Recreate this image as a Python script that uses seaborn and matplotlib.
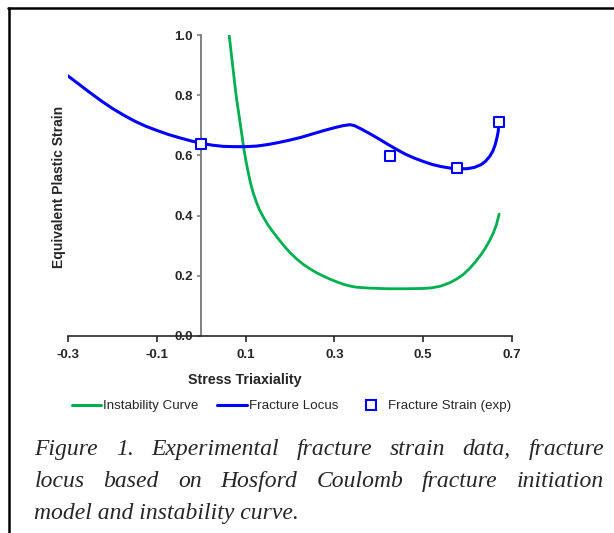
import matplotlib
matplotlib.use("Agg")
import matplotlib.pyplot as plt
import seaborn as sns
from matplotlib.lines import Line2D

# ---- data ----
instab_x = [0.063, 0.068, 0.072, 0.076, 0.080, 0.084, 0.088, 0.092, 0.096, 0.101,
            0.106, 0.111, 0.117, 0.124, 0.131, 0.140, 0.150, 0.160, 0.170, 0.185,
            0.200, 0.215, 0.230, 0.245, 0.260, 0.275, 0.290, 0.305, 0.320, 0.335,
            0.350, 0.380, 0.420, 0.460, 0.500, 0.520, 0.540, 0.560, 0.575, 0.590,
            0.605, 0.618, 0.630, 0.640, 0.650, 0.658, 0.665, 0.671]
instab_y = [1.000, 0.935, 0.884, 0.832, 0.784, 0.745, 0.705, 0.664, 0.622, 0.580,
            0.543, 0.508, 0.476, 0.446, 0.420, 0.395, 0.370, 0.349, 0.330, 0.302,
            0.277, 0.256, 0.238, 0.223, 0.210, 0.199, 0.189, 0.180, 0.172, 0.166,
            0.162, 0.159, 0.157, 0.157, 0.158, 0.160, 0.166, 0.177, 0.189, 0.204,
            0.225, 0.247, 0.270, 0.292, 0.318, 0.343, 0.370, 0.405]

locus_x = [-0.300, -0.275, -0.250, -0.225, -0.200, -0.175, -0.150, -0.125, -0.100,
           -0.075, -0.050, -0.025, 0.000, 0.025, 0.050, 0.075, 0.100, 0.125, 0.150,
           0.175, 0.200, 0.225, 0.250, 0.275, 0.300, 0.320, 0.335, 0.345, 0.360,
           0.380, 0.400, 0.420, 0.440, 0.460, 0.480, 0.500, 0.520, 0.540, 0.560,
           0.580, 0.600, 0.615, 0.630, 0.640, 0.650, 0.657, 0.662, 0.666, 0.669,
           0.670]
locus_y = [0.864, 0.836, 0.808, 0.781, 0.756, 0.734, 0.714, 0.697, 0.683,
           0.670, 0.659, 0.649, 0.640, 0.634, 0.630, 0.629, 0.629, 0.631, 0.636,
           0.643, 0.651, 0.660, 0.671, 0.682, 0.692, 0.699, 0.702, 0.699, 0.688,
           0.672, 0.655, 0.637, 0.620, 0.604, 0.591, 0.580, 0.570, 0.563, 0.558,
           0.555, 0.556, 0.560, 0.569, 0.580, 0.597, 0.615, 0.635, 0.658, 0.680,
           0.701]

exp_x = [0.000, 0.425, 0.577, 0.670]
exp_y = [0.638, 0.599, 0.557, 0.712]

x_ticks = [-0.3, -0.1, 0.1, 0.3, 0.5, 0.7]
y_ticks = [0.0, 0.2, 0.4, 0.6, 0.8, 1.0]

caption = [
    "Figure 1. Experimental fracture strain data, fracture",
    "locus based on Hosford Coulomb fracture initiation",
    "model and instability curve.",
]

GREEN = "#00B050"
BLUE = "#0000FF"
W, H = 614, 533

sns.set_theme(style="white")
plt.rcParams["font.family"] = ["Liberation Sans", "DejaVu Sans"]

fig = plt.figure(figsize=(W / 100, H / 100), dpi=100)
ax = fig.add_axes([68 / W, 1 - 336 / H, 444 / W, 301 / H])
ax.patch.set_alpha(0)

sns.lineplot(x=instab_x, y=instab_y, sort=False, estimator=None, color=GREEN,
             lw=2.0, ax=ax)
sns.lineplot(x=locus_x, y=locus_y, sort=False, estimator=None, color=BLUE,
             lw=2.2, ax=ax)
sns.scatterplot(x=exp_x, y=exp_y, marker="s", s=42, facecolor="white",
                edgecolor=BLUE, linewidth=1.5, ax=ax, zorder=5)

# spines first: moving a spine resets the ticks
for s in ["top", "right"]:
    ax.spines[s].set_visible(False)
ax.spines["left"].set_position(("data", 0))
ax.spines["left"].set_color("#7f7f7f")
ax.spines["left"].set_linewidth(1.4)
ax.spines["bottom"].set_color("#262626")
ax.spines["bottom"].set_linewidth(1.2)

ax.set_xlim(-0.3, 0.7)
ax.set_ylim(0.0, 1.0)
ax.set_xticks(x_ticks)
ax.set_xticklabels([f"{v:.1f}" for v in x_ticks], fontweight="bold", fontsize=9.5)
ax.set_yticks(y_ticks)
ax.set_yticklabels([f"{v:.1f}" for v in y_ticks], fontweight="bold", fontsize=9.5)
ax.tick_params(axis="x", direction="out", length=4, width=1.2, color="#262626",
               pad=5, bottom=True)
ax.tick_params(axis="y", direction="out", length=3, width=1.2, color="#7f7f7f",
               pad=3, left=True)
for lab in ax.get_yticklabels() + ax.get_xticklabels():
    lab.set_fontweight("bold")
ax.set_xlabel("")
ax.set_ylabel("")

# axis titles
fig.text(245 / W, 1 - 380 / H, "Stress Triaxiality", ha="center", va="center",
         fontsize=10.3, fontweight="bold")
fig.text(59 / W, 1 - 187 / H, "Equivalent Plastic Strain", ha="center",
         va="center", rotation=90, fontsize=10, fontweight="bold")

# legend
handles = [
    Line2D([], [], color=GREEN, lw=2.2),
    Line2D([], [], color=BLUE, lw=2.2),
    Line2D([], [], color=BLUE, lw=0, marker="s", markersize=6.5,
           markerfacecolor="white", markeredgewidth=1.5),
]
labels = ["Instability Curve", "Fracture Locus", "Fracture Strain (exp)"]
fig.legend(handles, labels, loc="center left", ncol=3, frameon=False,
           bbox_to_anchor=(72 / W, 1 - 406 / H), borderpad=0, borderaxespad=0,
           prop={"size": 9.6}, handlelength=2.2, handletextpad=0.15,
           columnspacing=1.4)

# frame around the figure box
fig.add_artist(Line2D([8 / W, 1], [1 - 8 / H, 1 - 8 / H], color="black", lw=1.8,
                      transform=fig.transFigure))
fig.add_artist(Line2D([9 / W, 9 / W], [0, 1 - 8 / H], color="black", lw=1.8,
                      transform=fig.transFigure))

# justified caption
cap_font = dict(family=["Liberation Serif", "DejaVu Serif"], style="italic",
                size=17)
x0, x1 = 34.5, 604
baselines = [455, 487, 519]
fig.canvas.draw()
renderer = fig.canvas.get_renderer()
for i, (line, yb) in enumerate(zip(caption, baselines)):
    y = 1 - yb / H
    words = line.split()
    if i == len(caption) - 1:
        fig.text(x0 / W, y, line, ha="left", va="baseline", **cap_font)
        continue
    widths = []
    for w in words:
        t = fig.text(0, 0, w, **cap_font)
        widths.append(t.get_window_extent(renderer).width)
        t.remove()
    gap = (x1 - x0 - sum(widths)) / (len(words) - 1)
    xp = x0
    for w, wd in zip(words, widths):
        fig.text(xp / W, y, w, ha="left", va="baseline", **cap_font)
        xp += wd + gap

fig.savefig("out.png", dpi=100)
